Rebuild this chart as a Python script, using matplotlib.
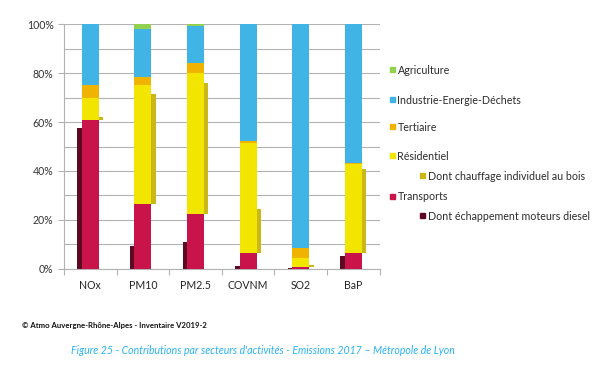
import numpy as np
from matplotlib import pyplot as plt
from matplotlib.patches import Rectangle
from matplotlib.ticker import MultipleLocator, PercentFormatter

plt.rcParams['font.family'] = ['Lato', 'DejaVu Sans']

polluants = ["NOx", "PM10", "PM2.5", "COVNM", "SO2", "BaP"]

# parts en %
transports = np.array([61.0, 26.5, 22.2, 6.5, 0.8, 6.5])
residentiel = np.array([9.0, 48.7, 58.0, 44.8, 3.7, 36.5])
tertiaire = np.array([5.0, 3.4, 3.8, 0.8, 3.8, 0.3])
agriculture = np.array([0.0, 2.0, 0.5, 0.0, 0.0, 0.0])
industrie = 100 - transports - residentiel - tertiaire - agriculture

diesel = np.array([57.7, 9.1, 11.0, 1.2, 0.3, 5.2])
bois = np.array([1.2, 44.8, 53.8, 18.0, 0.7, 34.4])

c_agri = "#92d050"
c_indus = "#41b4e6"
c_tert = "#f0b400"
c_resid = "#f2e600"
c_bois = "#c9b817"
c_trans = "#c8144b"
c_diesel = "#5c0a22"

fig = plt.figure(figsize=(6.08, 3.78), dpi=100)
ax = fig.add_axes([64 / 608, 1 - 268.7 / 378, 315.6 / 608, 244.4 / 378])

x = np.arange(len(polluants))
w = 0.32
ws = 0.09

# sous-barres (derriere)
ax.bar(x - w / 2 - ws / 2 + 0.005, diesel, ws, color=c_diesel, zorder=2)
ax.bar(x + w / 2 + ws / 2 - 0.005, bois, ws, bottom=transports, color=c_bois, zorder=2)

# barre principale empilee
bas = np.zeros(len(x))
for vals, col in [(transports, c_trans), (residentiel, c_resid), (tertiaire, c_tert),
                  (industrie, c_indus), (agriculture, c_agri)]:
    ax.bar(x, vals, w, bottom=bas, color=col, zorder=3)
    bas = bas + vals

ax.set_xlim(-0.5, len(x) - 0.5)
ax.set_ylim(0, 100)
ax.yaxis.set_major_locator(MultipleLocator(20))
ax.yaxis.set_minor_locator(MultipleLocator(10))
ax.yaxis.set_major_formatter(PercentFormatter(decimals=0))
ax.grid(axis="y", which="both", color="#b3b3b3", lw=0.8, zorder=0)

ax.set_xticks(x)
ax.set_xticklabels(polluants)
ax.set_xticks(np.arange(-0.5, len(x)), minor=True)
ax.tick_params(axis="x", which="major", length=0, pad=8, labelsize=7.6, colors="#222222")
ax.tick_params(axis="x", which="minor", length=4, color="#b3b3b3", width=0.8)
ax.tick_params(axis="y", which="major", length=4, color="#b3b3b3", width=0.8,
               labelsize=7.6, labelcolor="#333333")
ax.tick_params(axis="y", which="minor", length=0)

for s in ["top", "right"]:
    ax.spines[s].set_visible(False)
for s in ["left", "bottom"]:
    ax.spines[s].set_color("#b3b3b3")
    ax.spines[s].set_linewidth(0.8)

# legende
legende = [
    ("Agriculture", c_agri, 70.7, False),
    ("Industrie-Energie-Déchets", c_indus, 100, False),
    ("Tertiaire", c_tert, 127, False),
    ("Résidentiel", c_resid, 156.7, False),
    ("Dont chauffage individuel au bois", c_bois, 176.5, True),
    ("Transports", c_trans, 197, False),
    ("Dont échappement moteurs diesel", c_diesel, 216.7, True),
]
for label, col, ypx, sub in legende:
    x0 = 420 if sub else 390
    fig.patches.append(Rectangle((x0 / 608, 1 - (ypx + 1.5) / 378), 5 / 608, 5 / 378,
                                 transform=fig.transFigure, color=col))
    fig.text((x0 + 7.5) / 608, 1 - ypx / 378, label, fontsize=7.7, va="center",
             color="#2b2b2b")

fig.text(22 / 608, 1 - 325.7 / 378, "© Atmo Auvergne-Rhône-Alpes - Inventaire V2019-2",
         fontsize=5.6, fontweight="bold", va="center", color="#111111")
fig.text(263 / 608, 1 - 350.7 / 378,
         "Figure 25 - Contributions par secteurs d'activités - Emissions 2017 – Métropole de Lyon",
         fontsize=7.6, style="italic", va="center", ha="center", color="#2ab4f0")

fig.savefig("out.png", dpi=100)
